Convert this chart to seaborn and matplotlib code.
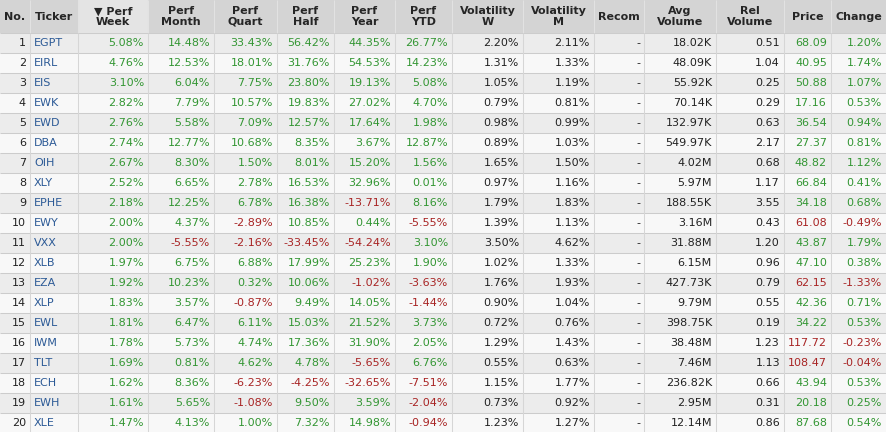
import numpy as np
import matplotlib
matplotlib.use('Agg')
import matplotlib.pyplot as plt
from matplotlib.colors import ListedColormap
import seaborn as sns

# screener data (top 20 by weekly performance)
tickers = ['EGPT', 'EIRL', 'EIS', 'EWK', 'EWD', 'DBA', 'OIH', 'XLY', 'EPHE', 'EWY',
           'VXX', 'XLB', 'EZA', 'XLP', 'EWL', 'IWM', 'TLT', 'ECH', 'EWH', 'XLE']
perf_week = [5.08, 4.76, 3.10, 2.82, 2.76, 2.74, 2.67, 2.52, 2.18, 2.00,
             2.00, 1.97, 1.92, 1.83, 1.81, 1.78, 1.69, 1.62, 1.61, 1.47]
perf_month = [14.48, 12.53, 6.04, 7.79, 5.58, 12.77, 8.30, 6.65, 12.25, 4.37,
              -5.55, 6.75, 10.23, 3.57, 6.47, 5.73, 0.81, 8.36, 5.65, 4.13]
perf_quart = [33.43, 18.01, 7.75, 10.57, 7.09, 10.68, 1.50, 2.78, 6.78, -2.89,
              -2.16, 6.88, 0.32, -0.87, 6.11, 4.74, 4.62, -6.23, -1.08, 1.00]
perf_half = [56.42, 31.76, 23.80, 19.83, 12.57, 8.35, 8.01, 16.53, 16.38, 10.85,
             -33.45, 17.99, 10.06, 9.49, 15.03, 17.36, 4.78, -4.25, 9.50, 7.32]
perf_year = [44.35, 54.53, 19.13, 27.02, 17.64, 3.67, 15.20, 32.96, -13.71, 0.44,
             -54.24, 25.23, -1.02, 14.05, 21.52, 31.90, -5.65, -32.65, 3.59, 14.98]
perf_ytd = [26.77, 14.23, 5.08, 4.70, 1.98, 12.87, 1.56, 0.01, 8.16, -5.55,
            3.10, 1.90, -3.63, -1.44, 3.73, 2.05, 6.76, -7.51, -2.04, -0.94]
vol_w = [2.20, 1.31, 1.05, 0.79, 0.98, 0.89, 1.65, 0.97, 1.79, 1.39,
         3.50, 1.02, 1.76, 0.90, 0.72, 1.29, 0.55, 1.15, 0.73, 1.23]
vol_m = [2.11, 1.33, 1.19, 0.81, 0.99, 1.03, 1.50, 1.16, 1.83, 1.13,
         4.62, 1.33, 1.93, 1.04, 0.76, 1.43, 0.63, 1.77, 0.92, 1.27]
recom = ['-'] * 20
avg_volume = ['18.02K', '48.09K', '55.92K', '70.14K', '132.97K', '549.97K', '4.02M', '5.97M',
              '188.55K', '3.16M', '31.88M', '6.15M', '427.73K', '9.79M', '398.75K', '38.48M',
              '7.46M', '236.82K', '2.95M', '12.14M']
rel_volume = [0.51, 1.04, 0.25, 0.29, 0.63, 2.17, 0.68, 1.17, 3.55, 0.43,
              1.20, 0.96, 0.79, 0.55, 0.19, 1.23, 1.13, 0.66, 0.31, 0.86]
price = [68.09, 40.95, 50.88, 17.16, 36.54, 27.37, 48.82, 66.84, 34.18, 61.08,
         43.87, 47.10, 62.15, 42.36, 34.22, 117.72, 108.47, 43.94, 20.18, 87.68]
change = [1.20, 1.74, 1.07, 0.53, 0.94, 0.81, 1.12, 0.41, 0.68, -0.49,
          1.79, 0.38, -1.33, 0.71, 0.53, -0.23, -0.04, 0.53, 0.25, 0.54]

headers = ['No.', 'Ticker', '\u25BC Perf\nWeek', 'Perf\nMonth', 'Perf\nQuart', 'Perf\nHalf',
           'Perf\nYear', 'Perf\nYTD', 'Volatility\nW', 'Volatility\nM', 'Recom',
           'Avg\nVolume', 'Rel\nVolume', 'Price', 'Change']
sorted_col = 2

# layout: column widths in pixels
col_widths = [30, 48, 70, 66, 63, 57, 61, 57, 71, 71, 50, 72, 68, 47, 55]
edges = np.concatenate([[0], np.cumsum(col_widths)])
n_rows = len(tickers)

GREEN = '#339633'
RED = '#a82424'
BLUE = '#2c5a96'
BLACK = '#222222'

sns.set_theme(style='white')
plt.rcParams['font.family'] = ['DejaVu Sans']

fig = plt.figure(figsize=(8.86, 4.32), dpi=100)
ax_head = fig.add_axes([0, 1 - 33 / 432, 1, 33 / 432])
ax_body = fig.add_axes([0, 1 - 433 / 432, 1, 400 / 432])

# header background
head_codes = np.zeros((1, len(col_widths)))
head_codes[0, sorted_col] = 1
sns.heatmap(np.repeat(head_codes, col_widths, axis=1), ax=ax_head, cbar=False,
            cmap=ListedColormap(['#d4d4d4', '#e4e4e4']), vmin=0, vmax=1,
            xticklabels=False, yticklabels=False)
ax_head.vlines(edges[1:-1], 0, 1, color='#e2e2e2', lw=0.75)

# alternating row backgrounds
row_codes = (np.arange(n_rows) % 2)[:, None] * np.ones((1, len(col_widths)))
sns.heatmap(np.repeat(row_codes, col_widths, axis=1), ax=ax_body, cbar=False,
            cmap=ListedColormap(['#ececec', '#f8f8f8']), vmin=0, vmax=1,
            xticklabels=False, yticklabels=False)

for ax in (ax_head, ax_body):
    ax.set_axis_off()

# grid lines
ax_body.hlines(np.arange(0, n_rows + 1), 0, edges[-1], color='#cccccc', lw=0.75)
ax_body.vlines(edges[1:-1], 0, n_rows, color='#d6d6d6', lw=0.75)

# header labels
for j, h in enumerate(headers):
    ax_head.text((edges[j] + edges[j + 1]) / 2, 0.5, h, ha='center', va='center',
                 fontsize=8, fontweight='bold', color='#262626', linespacing=1.05)


def sign_color(v):
    return GREEN if v >= 0 else RED


for i in range(n_rows):
    y = i + 0.5
    chg_color = sign_color(change[i])
    cells = [
        (str(i + 1), BLACK),
        (tickers[i], BLUE),
        ('%.2f%%' % perf_week[i], sign_color(perf_week[i])),
        ('%.2f%%' % perf_month[i], sign_color(perf_month[i])),
        ('%.2f%%' % perf_quart[i], sign_color(perf_quart[i])),
        ('%.2f%%' % perf_half[i], sign_color(perf_half[i])),
        ('%.2f%%' % perf_year[i], sign_color(perf_year[i])),
        ('%.2f%%' % perf_ytd[i], sign_color(perf_ytd[i])),
        ('%.2f%%' % vol_w[i], BLACK),
        ('%.2f%%' % vol_m[i], BLACK),
        (recom[i], BLACK),
        (avg_volume[i], BLACK),
        ('%.2f' % rel_volume[i], BLACK),
        ('%.2f' % price[i], chg_color),
        ('%.2f%%' % change[i], chg_color),
    ]
    for j, (txt, c) in enumerate(cells):
        if j == 1:
            ax_body.text(edges[j] + 4, y, txt, ha='left', va='center', fontsize=8, color=c)
        else:
            ax_body.text(edges[j + 1] - 4, y, txt, ha='right', va='center', fontsize=8, color=c)

fig.savefig('out.png', dpi=100)
